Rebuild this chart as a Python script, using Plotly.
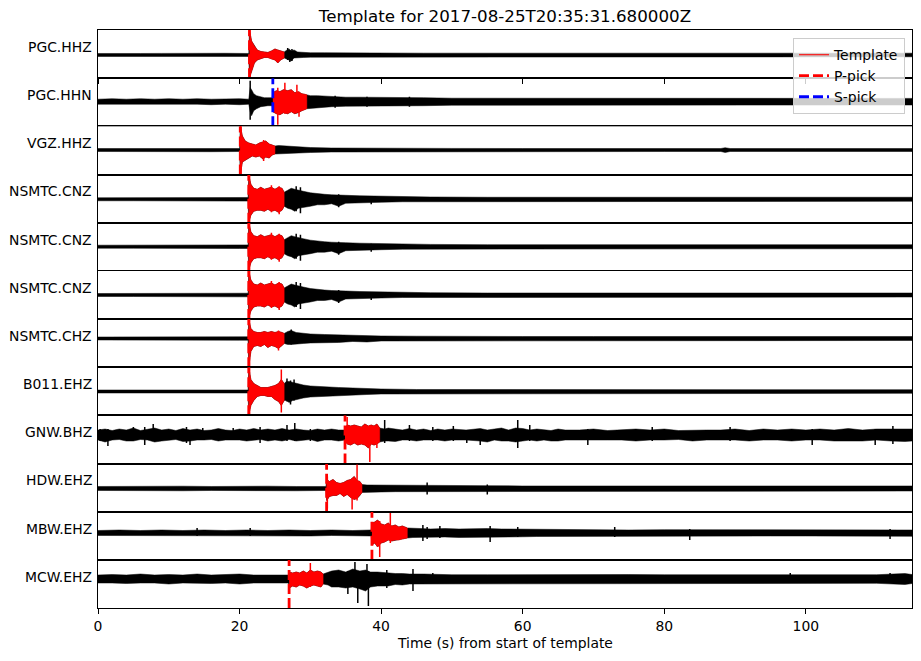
import plotly.graph_objects as go
from plotly.subplots import make_subplots

# ---------------- data ----------------
TITLE = "Template for 2017-08-25T20:35:31.680000Z"
XLABEL = "Time (s) from start of template"
CHANNELS = ["PGC.HHZ", "PGC.HHN", "VGZ.HHZ", "NSMTC.CNZ", "NSMTC.CNZ", "NSMTC.CNZ",
            "NSMTC.CHZ", "B011.EHZ", "GNW.BHZ", "HDW.EHZ", "MBW.EHZ", "MCW.EHZ"]
XTICKS = [0, 20, 40, 60, 80, 100]
X_MAX = 115.0

# template windows (s) and picks (s)
TEMPLATE_START = [21.4, 24.7, 20.1, 21.3, 21.3, 21.3, 21.3, 21.3, 34.9, 32.3, 38.7, 27.0]
TEMPLATE_END = [26.3, 29.5, 25.0, 26.3, 26.3, 26.3, 26.3, 26.3, 39.8, 37.3, 43.7, 31.8]
P_PICKS = [21.4, None, 20.1, 21.3, 21.3, 21.3, 21.3, 21.3, 34.9, 32.3, 38.7, 27.0]
S_PICKS = [None, 24.7, None, None, None, None, None, None, None, None, None, None]

# per-panel amplitude limits (lower, upper), same units as the envelopes
YLIMS = [(-23.2, 25), (-24.6, 23.5), (-24.5, 23.7), (-23.4, 24.8), (-24.1, 24), (-24, 24.2),
         (-28.7, 19.5), (-23.8, 24.3), (-28.5, 19.7), (-23.2, 25), (-26.8, 21.3), (-29, 19.2)]

# dense waveform envelopes: (time s, upper amplitude, lower amplitude)
env_pgc_hhz = [(0, 1.5, 1.5), (3, 1.8, 1.5), (6, 1.5, 1.8), (9, 1.6, 1.4), (12, 1.8, 1.6), (15, 1.5, 1.5),
               (18, 1.7, 1.6), (21.3, 1.5, 1.5), (21.4, 25, 23), (21.7, 14, 16), (22.1, 9, 8), (22.5, 5, 5),
               (23.0, 3.5, 3.5), (23.5, 3, 2.5), (24.0, 2.5, 2.5), (24.5, 4, 4), (25.0, 6, 5), (25.4, 5, 8),
               (25.8, 4, 5), (26.3, 3, 3), (26.7, 5, 4), (27.0, 6, 5), (27.3, 4, 6), (27.7, 5, 3), (28.2, 3, 3),
               (29, 2.5, 2.5), (30, 2.2, 2.2), (32, 2.2, 2), (35, 2, 2), (38, 1.8, 1.8), (42, 1.8, 1.8),
               (46, 1.8, 1.8), (50, 1.8, 1.6), (55, 1.8, 1.8), (60, 1.8, 1.8), (65, 1.8, 1.8), (70, 1.8, 1.8),
               (75, 1.8, 1.8), (80, 1.8, 1.8), (85, 1.8, 1.8), (90, 1.8, 1.8), (95, 1.8, 1.8), (100, 1.8, 1.8),
               (105, 1.8, 1.8), (110, 1.8, 1.8), (115, 1.8, 1.8)]
env_pgc_hhn = [(0, 2.5, 2.5), (2, 3, 2.5), (4, 2.5, 3), (6, 3, 2.5), (8, 2.5, 2.5), (10, 3, 3), (12, 2.5, 2.5),
               (14, 3, 2.5), (16, 2.5, 3), (18, 3, 2.5), (20, 3, 3), (21.3, 2.5, 2.5), (21.5, 14, 10),
               (21.7, 12, 14), (22.0, 8, 9), (22.4, 6, 7), (23.0, 5, 5), (23.5, 4, 4.5), (24.0, 4, 4),
               (24.6, 4, 4), (24.7, 9, 10), (25.2, 11, 12), (25.7, 10, 13), (26.2, 12, 11), (26.8, 11, 12),
               (27.3, 12, 10), (27.8, 9, 12), (28.3, 10, 11), (28.8, 8, 9), (29.5, 7, 7), (30, 6, 6),
               (31, 6, 5.5), (32, 5.5, 5.5), (33, 5, 5), (35, 4.5, 4.5), (37, 4.5, 4.5), (40, 4.5, 4),
               (43, 4, 4), (46, 4, 4), (50, 3.5, 3.5), (55, 3.5, 3.5), (60, 3.2, 3.2), (65, 3, 3), (70, 3, 3),
               (75, 3, 3), (80, 3, 3), (85, 3, 3), (90, 3.2, 3), (95, 3, 3.2), (100, 3.3, 3.3), (105, 3.3, 3),
               (110, 3.3, 3.3), (115, 3.3, 3.3)]
env_vgz_hhz = [(0, 1.5, 1.5), (4, 1.5, 1.5), (8, 1.7, 1.5), (12, 1.5, 1.5), (16, 1.5, 1.7), (20.0, 1.5, 1.5),
               (20.1, 24, 25), (20.4, 14, 12), (20.8, 9, 10), (21.3, 7, 8), (21.8, 6, 6), (22.3, 5, 7),
               (22.8, 7, 6), (23.3, 8, 9), (23.7, 9, 7), (24.2, 6, 8), (24.6, 5, 5), (25.0, 4, 4), (25.5, 4.5, 4),
               (26.5, 4, 4), (28, 3, 3), (30, 2.5, 2.5), (33, 2, 2), (36, 1.8, 1.8), (40, 1.6, 1.6),
               (50, 1.6, 1.6), (60, 1.5, 1.5), (70, 1.5, 1.5), (80, 1.5, 1.5), (88.0, 1.5, 1.5),
               (88.6, 2.3, 2.5), (89.3, 1.5, 1.5), (100, 1.5, 1.5), (115, 1.5, 1.5)]
env_nsmtc_cnz = [(0, 1.5, 1.5), (5, 1.7, 1.5), (10, 1.5, 1.7), (15, 1.7, 1.5), (20, 1.8, 1.8), (21.2, 1.8, 1.8),
                 (21.3, 24, 23), (21.6, 15, 16), (22.0, 11, 12), (22.5, 10, 11), (23.0, 12, 11),
                 (23.5, 10, 12), (24.0, 11, 10), (24.5, 12, 12), (25.0, 10, 11), (25.5, 12, 13),
                 (26.0, 11, 11), (26.3, 7, 7), (26.8, 9, 9), (27.3, 11, 10), (27.8, 10, 12), (28.3, 9, 9),
                 (29, 8, 8), (30, 6.5, 7), (31, 5.5, 5.5), (32, 5, 5.5), (33, 4.5, 4.5), (34, 4.5, 7), (35, 4, 4),
                 (37, 3.5, 3.5), (40, 3, 3), (43, 2.5, 2.5), (47, 2.3, 2.3), (55, 2, 2), (65, 2, 2),
                 (75, 2, 2), (85, 2, 2), (95, 2, 2), (105, 2, 2), (115, 2, 2)]
env_nsmtc_chz = [(0, 1.5, 1.5), (5, 1.5, 1.5), (10, 1.7, 1.5), (15, 1.5, 1.5), (20, 1.7, 1.7), (21.2, 1.7, 1.7),
                 (21.3, 19, 28), (21.6, 10, 13), (22.0, 7, 8), (22.5, 6, 7), (23.0, 6, 8), (23.5, 7, 6),
                 (24.0, 6, 9), (24.5, 7, 7), (25.0, 6, 8), (25.5, 7, 10), (26.0, 6, 7), (26.3, 5, 5),
                 (26.8, 7, 6), (27.3, 8, 6), (28, 6, 6), (29, 5, 5), (30, 4.5, 4.5), (32, 4, 4), (34, 3.5, 4),
                 (36, 3, 3), (38, 3, 3.5), (40, 2.5, 2.5), (45, 2.3, 2.3), (50, 2, 2), (60, 2, 2), (70, 2, 2),
                 (80, 2, 2), (90, 2, 2), (100, 2, 2), (115, 2, 2)]
env_b011_ehz = [(0, 1.5, 1.5), (5, 1.5, 1.5), (10, 1.5, 1.5), (15, 1.5, 1.5), (20, 1.5, 1.5), (21.2, 1.5, 1.5),
                (21.3, 24, 23), (21.6, 12, 14), (22.0, 8, 9), (22.5, 6, 5), (23.0, 4, 4), (23.5, 4, 4),
                (24.0, 4, 5), (24.5, 5, 5), (25.0, 6, 8), (25.5, 8, 10), (25.9, 12, 14), (26.3, 8, 9),
                (26.6, 10, 9), (27.0, 10, 11), (27.5, 9, 9), (28.0, 8, 8), (29, 6.5, 6.5), (30, 5.5, 5.5),
                (32, 4.5, 4.5), (34, 4, 4), (36, 3.5, 3.5), (38, 3, 3), (40, 2.5, 2.5), (45, 2, 2), (50, 2, 2),
                (60, 1.8, 1.8), (70, 1.8, 1.8), (80, 1.8, 1.8), (90, 1.8, 1.8), (100, 1.8, 1.8), (115, 1.8, 1.8)]
env_gnw_bhz = [(0, 5, 5), (1, 6, 7), (2, 4.5, 5), (3, 6, 4.5), (4, 5, 6), (5, 7, 6), (6, 4.5, 4.5), (7, 6, 5),
               (8, 7, 7), (9, 5, 6), (10, 6, 5), (11, 4.5, 4.5), (12, 6.5, 6.5), (13, 5, 6), (14, 6, 5),
               (15, 4.5, 5), (16, 5, 4.5), (17, 6.5, 6), (18, 5, 5), (19, 4.5, 5), (20, 6, 5), (21, 5, 6),
               (22, 6.5, 5), (23, 5, 4.5), (24, 6, 6), (25, 5, 5), (26, 6.5, 6), (27, 5, 4.5), (28, 6, 6),
               (29, 5, 5), (30, 4.5, 4.5), (31, 6, 6.5), (32, 5, 5), (33, 6, 5), (34, 5, 6), (34.9, 5, 5),
               (35.2, 10, 9), (35.7, 9, 10), (36.2, 10, 8), (36.7, 9, 10), (37.2, 8, 9), (37.7, 11, 10),
               (38.2, 9, 13), (38.6, 10, 9), (39.0, 9, 10), (39.4, 11, 9), (39.8, 7, 7), (40.5, 6, 6), (41, 7, 6),
               (42, 6, 6.5), (43, 5, 5), (44, 6.5, 5), (45, 5, 6), (46, 6, 5), (47, 4.5, 5), (48, 6, 5),
               (49, 5, 6), (50, 6, 5), (52, 5, 5), (54, 6.5, 6), (55, 5, 7), (56, 6, 5), (57, 7, 6), (58, 5, 6),
               (59, 7, 7), (60, 6.5, 6), (61, 5, 5), (62, 6, 6), (63, 5, 5), (64, 4.5, 6), (65, 6, 6), (66, 5, 5),
               (68, 5, 5), (70, 6, 5), (72, 4.5, 5), (74, 5, 5), (76, 6, 6), (78, 5, 5), (80, 6, 5), (82, 4.5, 4.5),
               (84, 5, 6), (86, 5, 5), (88, 5, 5), (90, 6, 5), (92, 4.5, 6), (94, 6, 5), (96, 5, 5), (98, 6, 6),
               (100, 5, 5), (102, 6, 5), (104, 5, 6), (106, 6.5, 6), (108, 5, 6), (110, 6, 5), (112, 6, 6),
               (114, 6.5, 6.5), (115, 6, 6)]
env_hdw_ehz = [(0, 2, 2), (4, 2.3, 2), (8, 2, 2.3), (12, 2.3, 2.3), (16, 2, 2), (20, 2.3, 2.3), (24, 2.3, 2),
               (28, 2, 2.3), (32.2, 2, 2), (32.3, 9, 12), (32.7, 7, 8), (33.2, 9, 7), (33.7, 6, 7),
               (34.2, 5, 5), (34.7, 6, 8), (35.2, 8, 6), (35.7, 9, 9), (36.2, 12, 11), (36.6, 8, 10),
               (37.0, 7, 7), (37.3, 4, 4), (38, 3.5, 3.5), (39, 3.5, 3.5), (40, 3.5, 3.5), (42, 3.2, 3.2),
               (45, 3, 3), (48, 3.2, 3), (50, 3, 3), (55, 2.8, 2.8), (60, 2.5, 2.5), (65, 2.5, 2.5),
               (70, 2.7, 2.5), (75, 2.5, 2.5), (80, 2.5, 2.5), (85, 2.5, 2.5), (90, 2.5, 2.5), (95, 2.7, 2.7),
               (100, 2.5, 2.5), (105, 2.5, 2.5), (110, 2.5, 2.5), (115, 2.5, 2.5)]
env_mbw_ehz = [(0, 2.5, 2.5), (3, 3, 2.5), (6, 2.5, 3), (9, 3, 3), (12, 2.5, 2.5), (15, 3, 3), (18, 2.5, 2.5),
               (21, 3, 3), (24, 2.5, 2.5), (27, 3, 3), (30, 2.5, 3), (33, 3, 2.5), (36, 2.5, 2.5), (38.6, 3, 3),
               (38.7, 10, 12), (39.1, 11, 10), (39.5, 13, 14), (40.0, 9, 10), (40.5, 8, 9), (41.0, 10, 7),
               (41.5, 7, 8), (42.0, 8, 7), (42.5, 6, 7), (43.0, 7, 6), (43.7, 5, 5), (44.5, 4.5, 4.5),
               (45.5, 4.5, 4), (47, 4, 4), (49, 4.5, 4), (51, 4, 4.5), (53, 4.5, 4), (55, 4.5, 4.5), (57, 4, 4),
               (60, 3.8, 3.8), (62, 3.8, 3.5), (65, 3.5, 3.5), (70, 3.5, 3.5), (75, 3, 3), (80, 3.3, 3.3),
               (85, 3.3, 3.6), (90, 3, 3), (95, 3, 3), (100, 3, 3), (105, 3, 3), (110, 3.3, 3), (115, 3, 3.3)]
env_mcw_ehz = [(0, 4, 4), (2, 4.5, 4), (4, 4, 4.5), (6, 5, 4), (8, 4, 4), (10, 4.5, 5), (12, 4, 4),
               (14, 5, 4), (16, 4, 4.5), (18, 4.5, 4), (20, 5, 5), (22, 4, 4), (24, 4, 4),
               (26, 4, 4), (26.9, 4, 4), (27.0, 7, 9), (27.5, 6, 7), (28.0, 7, 8), (28.5, 6, 6),
               (29.0, 8, 7), (29.5, 6, 9), (30.0, 9, 7), (30.5, 7, 6), (31.0, 8, 7), (31.5, 7, 8), (31.8, 5, 5),
               (32.5, 7, 6), (33, 8, 8), (34, 9, 8), (35, 7, 9), (36, 10, 8), (37, 8, 10), (37.8, 9, 12),
               (38.5, 7, 8), (39.5, 7, 7), (41, 6, 7), (42, 5.5, 5.5), (43, 5.5, 6), (44, 5, 5), (46, 5, 5),
               (48, 4.5, 4.5), (50, 4.3, 4.3), (55, 4.3, 4.3), (60, 4.5, 4.5), (65, 4.3, 4.3), (70, 4.3, 4.3),
               (75, 4.5, 4.3), (80, 4.3, 4.3), (85, 4.3, 4.5), (90, 4.3, 4.3), (95, 4.3, 4.3), (100, 4.5, 4.3),
               (105, 4.3, 4.3), (110, 4.3, 4.3), (114, 5.5, 5.5), (115, 4.5, 4.5)]

# prominent single peaks: (time s, upper amplitude, lower amplitude)
spk_pgc_hhz = [(26.8, 7, 5), (27.1, 5, 7), (27.4, 6, 6)]
spk_pgc_hhn = [(21.5, 21, 18), (25.4, 14, 23), (26.4, 19, 12), (28.1, 17, 10), (28.4, 10, 15),
               (33.5, 6, 6), (38, 5, 5), (44, 5, 5)]
spk_vgz_hhz = [(20.2, 24, 25), (23.4, 10, 11)]
spk_nsmtc_cnz = [(21.4, 24, 23), (24.5, 14, 13), (25.6, 13, 15), (28.0, 13, 12), (28.6, 12, 14),
                 (34.0, 5, 8), (38.6, 3, 5)]
spk_nsmtc_chz = [(21.4, 19, 28), (25.5, 8, 12), (27.3, 9, 6)]
spk_b011_ehz = [(21.4, 24, 23), (25.9, 22, 21), (26.7, 13, 10), (27.2, 11, 13), (27.7, 12, 9)]
spk_gnw_bhz = [(0.3, 6, 6), (1.4, 6, 11), (5.0, 8, 5), (6.6, 8, 10), (7.8, 11, 6), (12.5, 8, 8), (13.0, 5, 10),
               (14.8, 7, 5), (19.1, 7, 5), (22.9, 8, 8), (26.7, 10, 6), (27.8, 12, 6), (30.0, 6, 6),
               (35.2, 18, 8), (38.4, 10, 27), (39.4, 8, 13), (40.5, 15, 8), (44, 10, 6), (47.3, 8, 6),
               (50.2, 9, 6), (52.1, 5, 8), (54, 6, 10), (59.3, 15, 13), (61, 10, 6), (69.2, 6, 10),
               (78.3, 8, 6), (89.3, 8, 6), (100.9, 6, 10), (109.8, 6, 10), (112.3, 9, 9)]
spk_hdw_ehz = [(32.4, 12, 20), (35.9, 10, 21), (36.6, 24, 12), (46.5, 6, 6), (55, 4, 6)]
spk_mbw_ehz = [(14, 5, 3), (21.5, 5, 3), (39.8, 12, 24), (41.3, 20, 10), (45.9, 8, 8), (46.5, 6, 6),
               (48.3, 7, 5), (55.4, 7, 9), (59.3, 6, 4), (73, 6, 4), (83.6, 4, 7), (111.9, 4, 6)]
spk_mcw_ehz = [(30.0, 16, 8), (35.3, 8, 15), (36.3, 17, 8), (36.7, 8, 24), (38.0, 15, 8), (38.2, 8, 27),
               (40.8, 9, 9), (44.5, 10, 12), (47.3, 6, 4), (97.8, 6, 4), (111.9, 6, 4)]

ENVELOPES = [env_pgc_hhz, env_pgc_hhn, env_vgz_hhz, env_nsmtc_cnz, env_nsmtc_cnz, env_nsmtc_cnz,
             env_nsmtc_chz, env_b011_ehz, env_gnw_bhz, env_hdw_ehz, env_mbw_ehz, env_mcw_ehz]
SPIKES = [spk_pgc_hhz, spk_pgc_hhn, spk_vgz_hhz, spk_nsmtc_cnz, spk_nsmtc_cnz, spk_nsmtc_cnz,
          spk_nsmtc_chz, spk_b011_ehz, spk_gnw_bhz, spk_hdw_ehz, spk_mbw_ehz, spk_mcw_ehz]

# ---------------- figure ----------------
FONT = "DejaVu Sans"
n = len(CHANNELS)
fig = make_subplots(rows=n, cols=1, shared_xaxes=True, vertical_spacing=0)


def band(points):
    ts = [p[0] for p in points]
    up = [p[1] for p in points]
    dn = [-p[2] for p in points]
    return ts + ts[::-1], up + dn[::-1]


def strokes(points):
    xs, ys = [], []
    for t, u, d in points:
        xs += [t, t, None]
        ys += [u, -d, None]
    return xs, ys


for i, env in enumerate(ENVELOPES):
    row = i + 1
    t0, t1 = TEMPLATE_START[i], TEMPLATE_END[i]
    bx, by = band(env)
    fig.add_trace(go.Scatter(x=bx, y=by, mode="lines", fill="toself", fillcolor="black",
                             line=dict(color="black", width=0.5), showlegend=False,
                             hoverinfo="skip"), row=row, col=1)
    sk_black = [p for p in SPIKES[i] if not (t0 <= p[0] <= t1)]
    sk_red = [p for p in SPIKES[i] if t0 <= p[0] <= t1]
    if sk_black:
        sx, sy = strokes(sk_black)
        fig.add_trace(go.Scatter(x=sx, y=sy, mode="lines", line=dict(color="black", width=1.5),
                                 showlegend=False, hoverinfo="skip"), row=row, col=1)
    seg = [p for p in env if t0 - 1e-9 <= p[0] <= t1 + 1e-9]
    rx, ry = band(seg)
    fig.add_trace(go.Scatter(x=rx, y=ry, mode="lines", fill="toself", fillcolor="red",
                             line=dict(color="red", width=0.5), showlegend=False,
                             hoverinfo="skip"), row=row, col=1)
    if sk_red:
        sx, sy = strokes(sk_red)
        fig.add_trace(go.Scatter(x=sx, y=sy, mode="lines", line=dict(color="red", width=1.5),
                                 showlegend=False, hoverinfo="skip"), row=row, col=1)
    lo, hi = YLIMS[i]
    if P_PICKS[i] is not None:
        fig.add_trace(go.Scatter(x=[P_PICKS[i], P_PICKS[i]], y=[lo, hi], mode="lines",
                                 line=dict(color="red", width=2.8, dash="10px,4px"),
                                 showlegend=False, hoverinfo="skip"), row=row, col=1)
    if S_PICKS[i] is not None:
        fig.add_trace(go.Scatter(x=[S_PICKS[i], S_PICKS[i]], y=[lo, hi], mode="lines",
                                 line=dict(color="blue", width=2.8, dash="10px,4px"),
                                 showlegend=False, hoverinfo="skip"), row=row, col=1)
    fig.update_yaxes(range=[lo, hi], showticklabels=False, ticks="", showgrid=False, zeroline=False,
                     showline=True, mirror=True, linecolor="black", linewidth=1, row=row, col=1)
    is_bottom = row == n
    fig.update_xaxes(range=[0, X_MAX], showgrid=False, zeroline=False, showline=True, mirror=True,
                     linecolor="black", linewidth=1, tickvals=XTICKS,
                     ticks="outside" if (is_bottom or row == 1) else "",
                     ticklen=5, tickwidth=1, tickcolor="black",
                     showticklabels=is_bottom, tickfont=dict(size=13.9, color="black", family=FONT),
                     row=row, col=1)
    fig.add_annotation(text=CHANNELS[i], xref="paper", yref=f"y{'' if row == 1 else row} domain",
                       x=-0.0045, y=0.65, xanchor="right", yanchor="middle", showarrow=False,
                       font=dict(size=13.9, color="black", family=FONT))

# legend entries
fig.add_trace(go.Scatter(x=[None], y=[None], mode="lines", name="Template",
                         line=dict(color="rgba(255,0,0,0.8)", width=1.4)), row=1, col=1)
fig.add_trace(go.Scatter(x=[None], y=[None], mode="lines", name="P-pick",
                         line=dict(color="red", width=2.8, dash="10px,4px")), row=1, col=1)
fig.add_trace(go.Scatter(x=[None], y=[None], mode="lines", name="S-pick",
                         line=dict(color="blue", width=2.8, dash="10px,4px")), row=1, col=1)

fig.add_annotation(text=XLABEL, xref="paper", yref="paper", x=0.5, y=-0.0606,
                   xanchor="center", yanchor="middle", showarrow=False,
                   font=dict(size=13.9, color="black", family=FONT))

fig.update_layout(
    width=921, height=661,
    margin=dict(l=98, r=9, t=30, b=53),
    paper_bgcolor="white", plot_bgcolor="white",
    font=dict(family=FONT, color="black", size=13.9),
    title=dict(text=TITLE, x=0.5, xref="paper", y=1 - 16 / 661, yref="container",
               xanchor="center", yanchor="middle", font=dict(size=16.7, family=FONT, color="black")),
    legend=dict(x=0.9914, y=0.986, xanchor="right", yanchor="top", bgcolor="rgba(255,255,255,0.8)",
                bordercolor="#cccccc", borderwidth=1, font=dict(size=13.9, family=FONT),
                itemwidth=30, tracegroupgap=0),
    showlegend=True,
)

fig.write_html("out.html")
